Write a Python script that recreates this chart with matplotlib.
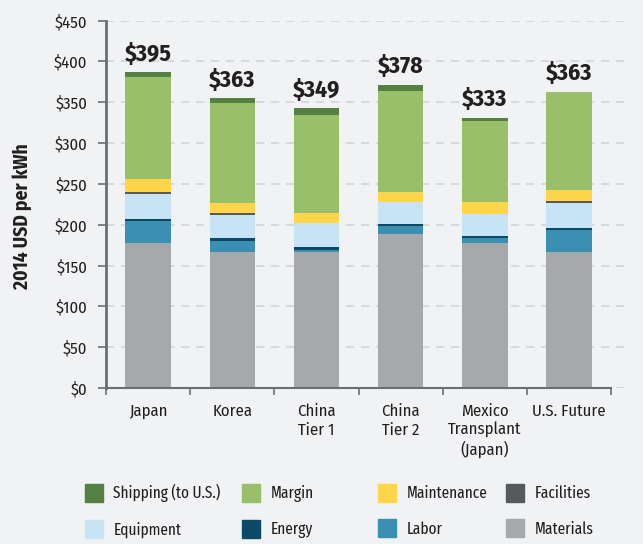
import matplotlib.pyplot as plt
import matplotlib.patches as mpatches
import numpy as np

plt.rcParams['font.family'] = ['Fira Sans Condensed', 'DejaVu Sans']

categories = ['Japan', 'Korea', 'China\nTier 1', 'China\nTier 2',
              'Mexico\nTransplant\n(Japan)', 'U.S. Future']
totals = ['$395', '$363', '$349', '$378', '$333', '$363']

# stacked from the bottom up
materials = [177, 167, 166, 188, 177, 167]
labor = [28, 13.5, 3.5, 10, 7, 27]
energy = [2.5, 3.5, 3.5, 2.5, 2.5, 1.5]
equipment = [30.5, 28, 29.5, 27, 27, 30.5]
facilities = [1.5, 2.5, 0, 0, 0, 2.5]
maintenance = [16, 12, 12, 12, 14.5, 14.5]
margin = [125, 122, 119.5, 124.5, 99, 120]
shipping = [6, 6, 8.5, 7, 3.5, 0]

series = [
    ('Materials', materials, '#a7a8aa'),
    ('Labor', labor, '#3a8fb3'),
    ('Energy', energy, '#0b4a66'),
    ('Equipment', equipment, '#c7e3f5'),
    ('Facilities', facilities, '#58595b'),
    ('Maintenance', maintenance, '#ffd64a'),
    ('Margin', margin, '#99bf6a'),
    ('Shipping (to U.S.)', shipping, '#548142'),
]

bg = '#f1f2f4'
txt = '#231f20'

fig = plt.figure(figsize=(6.43, 5.44), dpi=100, facecolor=bg)
ax = fig.add_axes([106 / 643, 1 - 388 / 544, (628 - 106) / 643, (388 - 20.5) / 544])
ax.set_facecolor(bg)

x = np.arange(len(categories))
bottom = np.zeros(len(categories))
handles = {}
for name, vals, color in series:
    vals = np.array(vals, dtype=float)
    ax.bar(x, vals, 0.54, bottom=bottom, color=color, linewidth=0, zorder=2)
    handles[name] = mpatches.Patch(color=color)
    bottom += vals

for xi, top, lab in zip(x, bottom, totals):
    ax.annotate(lab, xy=(xi, top), xytext=(0, 5), textcoords='offset points',
                ha='center', va='bottom', fontsize=17, fontweight='bold', color=txt)

ax.set_xlim(-0.5, 5.7)
ax.set_ylim(0, 450)
ax.set_yticks(np.arange(0, 451, 50))
ax.set_yticklabels([f'${v}' for v in range(0, 451, 50)])
ax.yaxis.grid(True, linestyle=(0, (5, 4)), color='#d3d5d8', linewidth=1.2, zorder=0)
ax.set_axisbelow(True)

ax.set_xticks(x)
ax.set_xticklabels(categories, fontsize=12, color=txt, linespacing=1.2)
ax.tick_params(axis='x', length=0, pad=11)
ax.set_xticks(np.arange(-0.5, 5.6, 1), minor=True)
ax.tick_params(axis='x', which='minor', length=5, width=1.2, color='#6d6e71', direction='out')
ax.tick_params(axis='y', length=6, width=1.2, color='#6d6e71', labelsize=12, labelcolor=txt, pad=7.5)

for s in ['top', 'right']:
    ax.spines[s].set_visible(False)
ax.spines['left'].set_color('#6d6e71')
ax.spines['left'].set_linewidth(2)
ax.spines['bottom'].set_color('#6d6e71')
ax.spines['bottom'].set_linewidth(1.5)
ax.spines['bottom'].set_bounds(-0.5, 5.5)

ax.set_ylabel('2014 USD per kWh', fontsize=14, fontweight='bold', color=txt)
ax.yaxis.set_label_coords(-0.142, 0.468)

legend_cols = [
    (['Shipping (to U.S.)', 'Equipment'], 85),
    (['Margin', 'Energy'], 242),
    (['Maintenance', 'Labor'], 378),
    (['Facilities', 'Materials'], 506),
]
for names, px in legend_cols:
    fig.legend([handles[n] for n in names], names, loc='upper left',
               bbox_to_anchor=(px / 643, 1 - 484 / 544), frameon=False,
               prop={'family': ['Fira Sans Extra Condensed', 'DejaVu Sans'], 'size': 12},
               handlelength=1.1, handleheight=1.25,
               handletextpad=0.6, labelspacing=1.05, borderpad=0,
               borderaxespad=0, labelcolor=txt)

fig.savefig('out.png', dpi=100, facecolor=bg)
